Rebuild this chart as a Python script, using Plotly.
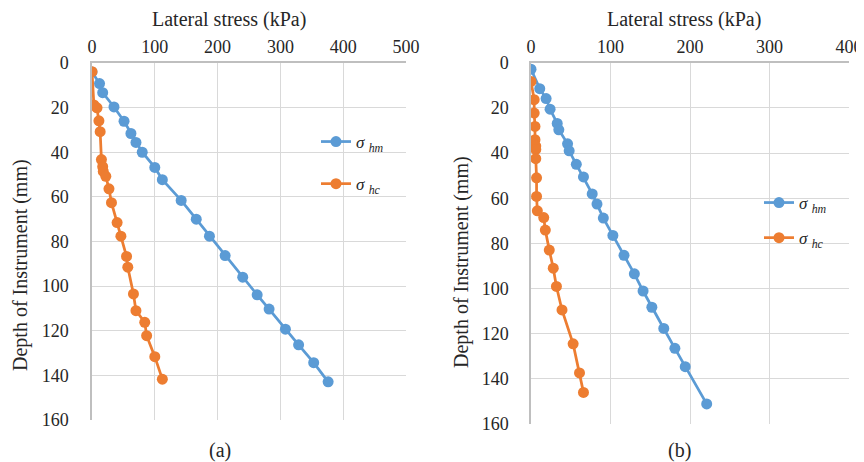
import plotly.graph_objects as go

# ---------------- data ----------------
# Panel (a)
depth_hm_a = [4.0, 9.2, 13.3, 19.7, 26.1, 31.6, 35.6, 40.0, 46.8, 52.3, 61.6,
              70.0, 77.6, 86.3, 96.0, 103.9, 110.3, 119.3, 126.3, 134.3, 142.9]
hm_a = [0, 12, 17, 35, 51, 62, 70, 80, 100, 112, 142,
        166, 187, 212, 240, 263, 282, 308, 329, 353, 376]

depth_hc_a = [3.9, 18.8, 20.1, 25.9, 30.8, 43.3, 46.5, 48.6, 50.8, 56.4, 62.6,
              71.5, 77.6, 86.7, 91.5, 103.5, 111.0, 116.2, 122.2, 131.6, 141.7]
hc_a = [0, 3, 8, 11, 13, 15, 17, 18, 22, 27, 31,
        40, 46, 55, 57, 66, 70, 84, 87, 100, 112]

# Panel (b)
depth_hm_b = [2.9, 11.5, 15.9, 20.6, 26.9, 29.7, 35.9, 39.0, 45.0, 50.6, 58.1,
              62.6, 68.8, 76.5, 85.3, 93.5, 101.1, 108.3, 117.7, 126.5, 134.6, 151.1]
hm_b = [0, 11, 19, 24, 33, 35, 46, 48, 57, 66, 77,
        83, 91, 103, 117, 130, 141, 152, 167, 181, 194, 221]

depth_hc_b = [8.3, 16.4, 22.3, 28.2, 34.1, 36.9, 38.4, 42.5, 51.0, 59.2,
              65.6, 68.6, 74.1, 83.0, 91.0, 99.1, 109.5, 124.5, 137.4, 146.0]
hc_b = [0, 4, 4, 5, 5, 6, 6, 6, 7, 7,
        8, 16, 18, 23, 28, 32, 39, 53, 61, 66]

name_hm = "<i>σ</i> <sub><i>hm</i></sub>"
name_hc = "<i>σ</i> <sub><i>hc</i></sub>"
x_title = "Lateral stress (kPa)"
y_title = "Depth of Instrument (mm)"
panel_labels = ["(a)", "(b)"]

# ---------------- style ----------------
BLUE = "#5B9BD5"
ORANGE = "#ED7D31"
FONT = "Liberation Serif, Times New Roman, serif"
TXT = "#262626"
GRID = "#D9D9D9"
AXL = "#BFBFBF"

# page body has an 8px margin, so the figure is offset by OFF pixels
OFF = 8
W, H = 864 - OFF, 462 - OFF
mt = 62 - OFF
mb = H - (424 - OFF)
ph = H - mt - mb

def px_x(p):
    return (p - OFF) / W

def px_y(p):
    return (H - mb - (p - OFF)) / ph

fig = go.Figure()

def add(x, y, name, color, xa, ya, legend, group):
    fig.add_trace(go.Scatter(
        x=x, y=y, mode="lines+markers", name=name,
        line=dict(color=color, width=2.75),
        marker=dict(color=color, size=11),
        xaxis=xa, yaxis=ya, legend=legend, legendgroup=group,
        showlegend=True))

add(hm_a, depth_hm_a, name_hm, BLUE, "x", "y", "legend", "a1")
add(hc_a, depth_hc_a, name_hc, ORANGE, "x", "y", "legend", "a2")
add(hm_b, depth_hm_b, name_hm, BLUE, "x2", "y2", "legend2", "b1")
add(hc_b, depth_hc_b, name_hc, ORANGE, "x2", "y2", "legend2", "b2")

axis_common = dict(
    showgrid=True, gridcolor=GRID, gridwidth=1,
    showline=True, linecolor=AXL, linewidth=1.5,
    zeroline=False, ticks="", automargin=False,
    tickfont=dict(family=FONT, size=18, color=TXT),
)

fig.update_layout(
    width=W, height=H,
    margin=dict(l=0, r=0, t=mt, b=mb, autoexpand=False),
    paper_bgcolor="white", plot_bgcolor="white",
    font=dict(family=FONT, size=18, color=TXT),
    xaxis=dict(domain=[px_x(92), px_x(406)], range=[0, 500], dtick=100, side="top",
               anchor="y", ticklabelstandoff=1, **axis_common),
    yaxis=dict(domain=[px_y(420), px_y(63)], range=[160, 0], dtick=20, anchor="x",
               ticklabelstandoff=18, **axis_common),
    xaxis2=dict(domain=[px_x(531), px_x(849)], range=[0, 400], dtick=100, side="top",
                anchor="y2", ticklabelstandoff=1, **axis_common),
    yaxis2=dict(domain=[px_y(424), px_y(62.7)], range=[160, 0], dtick=20, anchor="x2",
                ticklabelstandoff=17, **axis_common),
    legend=dict(x=px_x(316), y=px_y(124), xanchor="left", yanchor="top",
                bgcolor="rgba(0,0,0,0)", tracegroupgap=17,
                font=dict(family=FONT, size=17, color=TXT)),
    legend2=dict(x=px_x(759), y=px_y(185), xanchor="left", yanchor="top",
                 bgcolor="rgba(0,0,0,0)", tracegroupgap=10,
                 font=dict(family=FONT, size=17, color=TXT)),
    showlegend=True,
)

def ann_px(text, xpx, ypx, angle=0, size=20):
    fig.add_annotation(text=text, x=px_x(xpx), y=px_y(ypx),
                       xref="paper", yref="paper", xanchor="center",
                       yanchor="middle", showarrow=False, textangle=angle,
                       font=dict(family=FONT, size=size, color=TXT))

ann_px(x_title, 229, 19)
ann_px(x_title, 684, 19)
ann_px(y_title, 20, 265, -90)
ann_px(y_title, 462, 262, -90)
ann_px(panel_labels[0], 220, 450)
ann_px(panel_labels[1], 679, 450)

fig.write_html("out.html")
